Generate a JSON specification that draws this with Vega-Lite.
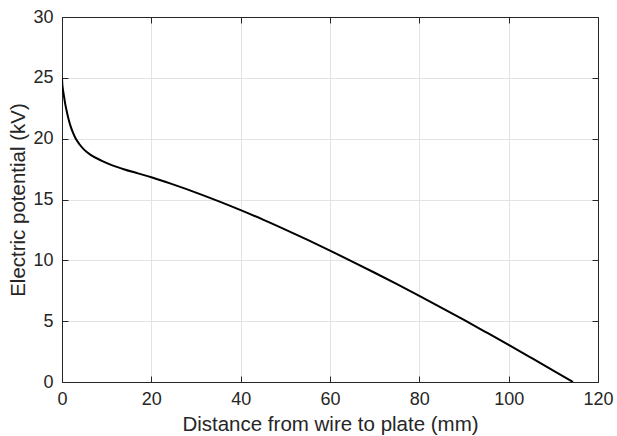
{
  "$schema": "https://vega.github.io/schema/vega-lite/v6.json",
  "width": 536,
  "height": 365,
  "autosize": "none",
  "padding": {"left": 62, "top": 17, "right": 19, "bottom": 54},
  "background": "white",
  "config": {
    "view": {"stroke": "#262626", "strokeWidth": 1},
    "font": "Liberation Sans",
    "axis": {
      "labelFont": "Liberation Sans",
      "titleFont": "Liberation Sans",
      "labelFontSize": 18,
      "titleFontSize": 20.5,
      "titleFontWeight": "normal",
      "labelColor": "#262626",
      "titleColor": "#262626",
      "domainColor": "#262626",
      "tickColor": "#262626",
      "tickWidth": 1,
      "gridColor": "#e3e3e3",
      "gridWidth": 1,
      "tickSize": -6,
      "domain": true
    }
  },
  "data": {
    "values": [
      {"d": 0, "v": 25},
      {"d": 0.05, "v": 24.6},
      {"d": 0.15, "v": 24.2},
      {"d": 0.4, "v": 23.6},
      {"d": 0.7, "v": 22.9},
      {"d": 1.0, "v": 22.35},
      {"d": 1.4, "v": 21.7},
      {"d": 1.9, "v": 21.05},
      {"d": 2.5, "v": 20.45},
      {"d": 3.0, "v": 20.05},
      {"d": 4.0, "v": 19.5},
      {"d": 5.0, "v": 19.08},
      {"d": 6.5, "v": 18.65},
      {"d": 8.8, "v": 18.2},
      {"d": 11, "v": 17.85},
      {"d": 14, "v": 17.47},
      {"d": 17, "v": 17.15},
      {"d": 20, "v": 16.83},
      {"d": 25, "v": 16.22},
      {"d": 30, "v": 15.57},
      {"d": 35, "v": 14.87},
      {"d": 40, "v": 14.13},
      {"d": 45, "v": 13.35},
      {"d": 50, "v": 12.53},
      {"d": 55, "v": 11.68},
      {"d": 60, "v": 10.8},
      {"d": 65, "v": 9.9},
      {"d": 70, "v": 8.98},
      {"d": 75, "v": 8.04},
      {"d": 80, "v": 7.08},
      {"d": 85, "v": 6.1},
      {"d": 90, "v": 5.1},
      {"d": 95, "v": 4.08},
      {"d": 100, "v": 3.05},
      {"d": 105, "v": 2.0},
      {"d": 110, "v": 0.94},
      {"d": 114.4, "v": 0}
    ]
  },
  "layer": [
    {
      "mark": {"type": "line", "color": "black", "strokeWidth": 2, "interpolate": "monotone", "clip": true},
      "encoding": {
        "x": {
          "field": "d", "type": "quantitative",
          "scale": {"domain": [0, 120], "nice": false, "zero": false},
          "axis": {"title": "Distance from wire to plate (mm)", "values": [0, 20, 40, 60, 80, 100, 120], "grid": true, "labelPadding": 14, "titlePadding": 6, "labelFlush": false}
        },
        "y": {
          "field": "v", "type": "quantitative",
          "scale": {"domain": [0, 30], "nice": false},
          "axis": {"title": "Electric potential (kV)", "values": [0, 5, 10, 15, 20, 25, 30], "grid": true, "labelPadding": 15, "titlePadding": 4, "labelFlush": false}
        }
      }
    },
    {
      "mark": {"type": "line", "color": "black", "strokeWidth": 2, "interpolate": "monotone", "opacity": 0},
      "encoding": {
        "x": {
          "field": "d", "type": "quantitative",
          "scale": {"domain": [0, 120], "nice": false, "zero": false},
          "axis": {"orient": "top", "title": null, "labels": false, "grid": false, "values": [0, 20, 40, 60, 80, 100, 120]}
        },
        "y": {
          "field": "v", "type": "quantitative",
          "scale": {"domain": [0, 30], "nice": false},
          "axis": {"orient": "right", "title": null, "labels": false, "grid": false, "values": [0, 5, 10, 15, 20, 25, 30]}
        }
      }
    }
  ],
  "resolve": {"axis": {"x": "independent", "y": "independent"}}
}
